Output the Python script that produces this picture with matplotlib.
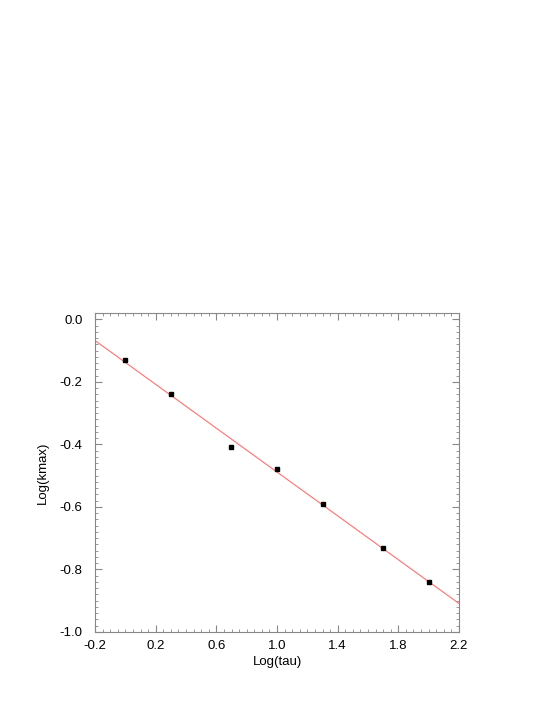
import numpy as np
import matplotlib
matplotlib.use("Agg")
import matplotlib.pyplot as plt
from matplotlib.ticker import MultipleLocator, FormatStrFormatter

plt.rcParams['font.family'] = ['Liberation Sans', 'DejaVu Sans']
plt.rcParams['axes.unicode_minus'] = False

log_tau = [0.0, 0.301, 0.699, 1.0, 1.301, 1.699, 2.0]
log_kmax = [-0.13, -0.24, -0.41, -0.48, -0.59, -0.73, -0.84]
xlim = (-0.2, 2.2)
ylim = (-1.0, 0.02)

fig = plt.figure(figsize=(5.54, 7.17), dpi=100)
ax = fig.add_axes([95/554, 1-632/717, (459-95)/554, (632-313)/717])

slope, intercept = np.polyfit(log_tau, log_kmax, 1)
xf = np.array(xlim)
ax.plot(xf, slope*xf + intercept, color='#ff7272', lw=0.8, zorder=2)
ax.plot(log_tau, log_kmax, 's', color='black', ms=3.5, zorder=3)

ax.set_xlim(*xlim)
ax.set_ylim(*ylim)
ax.xaxis.set_major_locator(MultipleLocator(0.4, offset=-0.2))
ax.xaxis.set_minor_locator(MultipleLocator(0.05))
ax.yaxis.set_major_locator(MultipleLocator(0.2))
ax.yaxis.set_minor_locator(MultipleLocator(0.02))
ax.xaxis.set_major_formatter(FormatStrFormatter('%.1f'))
ax.yaxis.set_major_formatter(FormatStrFormatter('%.1f'))

gray = '#888888'
for s in ax.spines.values():
    s.set_color(gray)
    s.set_linewidth(0.8)
ax.tick_params(which='both', direction='in', top=True, right=True, color=gray, labelsize=9.5)
ax.tick_params(which='major', length=5, width=0.8)
ax.tick_params(which='minor', length=2.5, width=0.6)
ax.tick_params(axis='y', which='major', pad=9)
ax.tick_params(axis='x', which='major', pad=6)

ax.set_xlabel('Log(tau)', fontsize=9.5, labelpad=3)
ax.set_ylabel('Log(kmax)', fontsize=9.5, labelpad=8)

fig.savefig('out.png', dpi=100)
